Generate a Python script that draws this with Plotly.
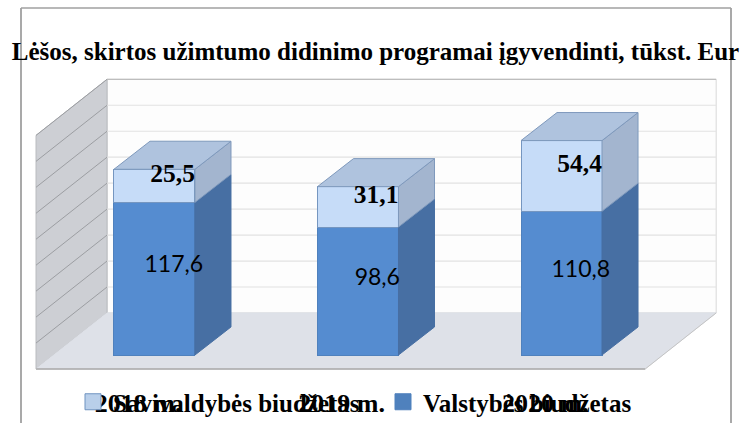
import plotly.graph_objects as go

# ---- data ----
categories = ["2018 m.", "2019 m.", "2020 m."]
valstybes = [117.6, 98.6, 110.8]
savivaldybes = [25.5, 31.1, 54.4]
valstybes_labels = ["117,6", "98,6", "110,8"]
savivaldybes_labels = ["25,5", "31,1", "54,4"]
grid_values = [0, 20, 40, 60, 80, 100, 120, 140, 160, 180]
title_text = "Lėšos, skirtos užimtumo didinimo programai įgyvendinti, tūkst. Eur"

# ---- pseudo-3D geometry in axis units ----
BAR_W = 0.398
BAR_DX, BAR_DY = 0.177, 21.6
WALL_DX, WALL_DY = 0.349, 43.2
FLOOR_Y = -10.8
FLOOR_L, FLOOR_R = -0.582, 2.411
LABEL_DX = 0.095
PLOT_H = 375  # height of the plot area in pixels

xs = list(range(len(categories)))
SERIF = "Liberation Serif"


def poly(*pts):
    return "M" + "L".join(f"{x},{y}" for x, y in pts) + "Z"


def line(x0, y0, x1, y1, color, width=1):
    return dict(type="line", xref="x", yref="y", x0=x0, y0=y0, x1=x1, y1=y1,
                layer="below", line=dict(color=color, width=width))


def face_trace(polys, fill, edge):
    px, py = [], []
    for p in polys:
        px += [a for a, _ in p] + [p[0][0], None]
        py += [b for _, b in p] + [p[0][1], None]
    return go.Scatter(x=px, y=py, mode="lines", fill="toself", fillcolor=fill,
                      line=dict(color=edge, width=1), hoverinfo="skip", showlegend=False)


back_y0 = FLOOR_Y + WALL_DY
top_v = grid_values[-1]
shapes = [
    dict(type="path", xref="x", yref="y", layer="below", fillcolor="#FDFDFD",
         line=dict(color="#D8D8D8", width=1),
         path=poly((FLOOR_L + WALL_DX, back_y0), (FLOOR_R + WALL_DX, back_y0),
                   (FLOOR_R + WALL_DX, back_y0 + top_v), (FLOOR_L + WALL_DX, back_y0 + top_v))),
    dict(type="path", xref="x", yref="y", layer="below", fillcolor="#CDCFD4",
         line=dict(color="#B9BBBF", width=1),
         path=poly((FLOOR_L, FLOOR_Y), (FLOOR_L + WALL_DX, back_y0),
                   (FLOOR_L + WALL_DX, back_y0 + top_v), (FLOOR_L, FLOOR_Y + top_v))),
    dict(type="path", xref="x", yref="y", layer="below", fillcolor="#DEE1E8",
         line=dict(color="#DEE1E8", width=1),
         path=poly((FLOOR_L, FLOOR_Y), (FLOOR_R, FLOOR_Y),
                   (FLOOR_R + WALL_DX, back_y0), (FLOOR_L + WALL_DX, back_y0))),
]
for g in grid_values[1:]:
    c = "#BDBDBD" if g == top_v else "#E2E2E2"
    shapes.append(line(FLOOR_L + WALL_DX, back_y0 + g, FLOOR_R + WALL_DX, back_y0 + g, c, 1.2))
    shapes.append(line(FLOOR_L, FLOOR_Y + g, FLOOR_L + WALL_DX, back_y0 + g, "#9C9EA2"))
shapes.append(line(FLOOR_L, FLOOR_Y, FLOOR_R, FLOOR_Y, "#A8A8A8", 1.5))
shapes.append(line(FLOOR_R, FLOOR_Y, FLOOR_R + WALL_DX, back_y0, "#C4C4C4", 1))
frame_top = 1 - 8 / PLOT_H
frame_bottom = 1 - 423 / PLOT_H
for px_x in (21, 731):
    shapes.append(dict(type="line", xref="paper", yref="paper", x0=px_x / 741, x1=px_x / 741,
                       y0=frame_bottom, y1=frame_top, layer="above",
                       line=dict(color="#8C8C8C", width=1.5)))
shapes.append(dict(type="line", xref="paper", yref="paper", x0=21 / 741, x1=731 / 741,
                   y0=frame_top, y1=frame_top, layer="above",
                   line=dict(color="#A0A0A0", width=1.5)))

side_low, side_up, tops = [], [], []
for i, a, b in zip(xs, valstybes, savivaldybes):
    r = i + BAR_W / 2
    l = i - BAR_W / 2
    t = a + b
    side_low.append([(r, 0), (r + BAR_DX, BAR_DY), (r + BAR_DX, a + BAR_DY), (r, a)])
    side_up.append([(r, a), (r + BAR_DX, a + BAR_DY), (r + BAR_DX, t + BAR_DY), (r, t)])
    tops.append([(l, t), (r, t), (r + BAR_DX, t + BAR_DY), (l + BAR_DX, t + BAR_DY)])

fig = go.Figure()
fig.add_trace(go.Bar(x=xs, y=valstybes, width=BAR_W, showlegend=False, hoverinfo="skip",
                     marker=dict(color="#558CD0", line=dict(color="#4F81BD", width=1))))
fig.add_trace(go.Bar(x=xs, y=savivaldybes, width=BAR_W, showlegend=False, hoverinfo="skip",
                     marker=dict(color="#C6DCF8", line=dict(color="#7596C0", width=1))))
fig.add_trace(face_trace(side_low, "#476FA3", "#476FA3"))
fig.add_trace(face_trace(side_up, "#A3B5CF", "#7F99BC"))
fig.add_trace(face_trace(tops, "#AFC3DE", "#7F99BC"))

fig.add_trace(go.Scatter(
    x=[i + LABEL_DX for i in xs], y=[a / 2 + BAR_DY / 2 - 1.5 for a in valstybes],
    mode="text", text=valstybes_labels, showlegend=False, hoverinfo="skip",
    textfont=dict(family="Lato", size=23, color="#000000")))
fig.add_trace(go.Scatter(
    x=[i + LABEL_DX - 0.006 for i in xs],
    y=[a + b / 2 + BAR_DY / 2 - 3 for a, b in zip(valstybes, savivaldybes)],
    mode="text", text=savivaldybes_labels, showlegend=False, hoverinfo="skip",
    textfont=dict(family=SERIF, size=25.5, color="#000000", weight="bold")))

# legend entries
fig.add_trace(go.Scatter(x=[None], y=[None], mode="markers", name="Savivaldybės biudžetas",
                         marker=dict(symbol="square", size=16, color="#B9CFEA",
                                     line=dict(color="#6F93C0", width=1))))
fig.add_trace(go.Scatter(x=[None], y=[None], mode="markers", name="Valstybės biudžetas",
                         marker=dict(symbol="square", size=16, color="#4F81BD",
                                     line=dict(color="#4F81BD", width=1))))

fig.update_layout(
    width=741, height=423, autosize=False,
    margin=dict(l=0, r=0, t=0, b=423 - PLOT_H, autoexpand=False),
    paper_bgcolor="white", plot_bgcolor="white",
    barmode="stack", shapes=shapes,
    title=dict(text=title_text, x=375.5 / 741, xanchor="center", y=1 - 51 / 423, yanchor="middle",
               font=dict(family=SERIF, size=25, color="#000000", weight="bold")),
    xaxis=dict(range=[-0.759, 2.882], tickmode="array", tickvals=[i - 0.08 for i in xs],
               ticktext=categories, showgrid=False, zeroline=False, showline=False, ticks="",
               fixedrange=True, automargin=False, ticklabelstandoff=10,
               tickfont=dict(family=SERIF, size=26, color="#000000", weight="bold")),
    yaxis=dict(range=[-15.4, 273.5], visible=False, fixedrange=True),
    legend=dict(orientation="h", traceorder="normal", x=73 / 741, xanchor="left",
                y=1 - 402 / 423, yanchor="middle", yref="container",
                entrywidth=265, entrywidthmode="pixels", bgcolor="rgba(0,0,0,0)",
                font=dict(family=SERIF, size=25, color="#000000", weight="bold")),
)

fig.write_html("out.html", config={"displayModeBar": False},
               post_script="document.body.style.margin='0';")
